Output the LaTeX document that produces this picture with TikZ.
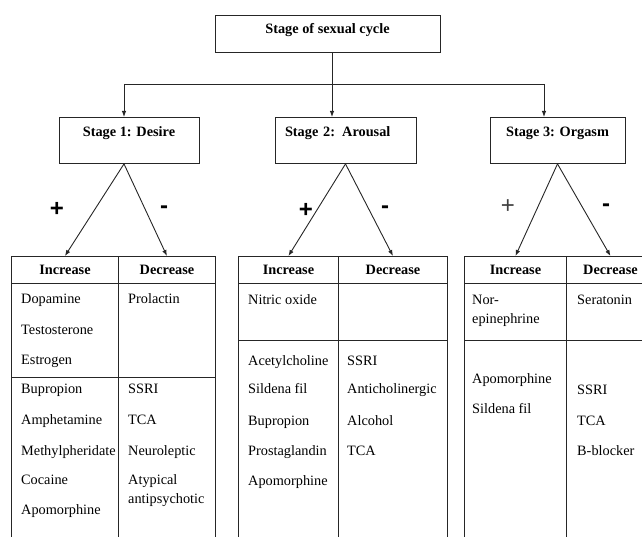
\documentclass[tikz,border=0pt]{standalone}
\usepackage{fontspec}
\setmainfont{Liberation Serif}
\newfontfamily\signfont{Liberation Sans}
\usetikzlibrary{arrows.meta}
\begin{document}
\begin{tikzpicture}[x=1pt,y=-1pt,
  line/.style={draw=black!85, line width=0.9pt},
  arr/.style={line, -{Latex[length=6pt,width=4.5pt]}},
  box/.style={draw=black!85, line width=0.9pt, font=\bfseries\fontsize{14.3}{17}\selectfont, inner xsep=0pt, inner ysep=4pt},
  stagebox/.style={box, anchor=north, text height=15pt, text depth=23pt, minimum height=46pt},
  head/.style={draw=black!85, line width=0.9pt, anchor=north west, minimum height=27pt, inner sep=0pt, font=\bfseries\fontsize{14.3}{17}\selectfont},
  cell/.style={anchor=base west, inner sep=0pt, font=\fontsize{14.3}{17}\selectfont},
  sign/.style={font=\signfont\bfseries\fontsize{24}{28}\selectfont, inner sep=0pt},
  thinsign/.style={font=\signfont\fontsize{24}{28}\selectfont, inner sep=0pt, text=black!75}
]
\useasboundingbox (0,0) rectangle (642,537);
\clip (0,0) rectangle (642,537);
\coordinate (bot) at (0,545);

% top
\node[box, anchor=north, minimum width=225pt, text height=14pt, text depth=15pt] (top) at (327.5,15) {Stage of sexual cycle};

% stages
\node[stagebox, minimum width=140pt] (s1) at (129,117) {Stage 1: Desire};
\node[stagebox, text width=121pt, align=left, inner xsep=10pt] (s2) at (345.5,117) {Stage 2: Arousal};
\node[stagebox, minimum width=135pt] (s3) at (557.5,117) {Stage 3: Orgasm};

% connectors from top
\coordinate (j) at (332,84);
\coordinate (d1) at (124,84);
\coordinate (d3) at (544,84);
\draw[line] (j |- top.south) -- (j);
\draw[line] (d1) -- (d3);
\draw[arr] (d1) -- (d1 |- s1.north);
\draw[arr] (j) -- (j |- s2.north);
\draw[arr] (d3) -- (d3 |- s3.north);

% header cells
\node[head, minimum width=107pt] (h1i) at (11,256) {Increase};
\node[head, minimum width=97pt] (h1d) at (118,256) {Decrease};
\node[head, minimum width=100pt] (h2i) at (238,256) {Increase};
\node[head, minimum width=109pt] (h2d) at (338,256) {Decrease};
\node[head, minimum width=102pt] (h3i) at (464,256) {Increase};
\node[head, minimum width=88pt] (h3d) at (566,256) {Decrease};

% arrows to tables
\coordinate (a1) at ([xshift=-5pt]s1.south);
\draw[arr] (a1) -- (h1i.north);
\draw[arr] (a1) -- (h1d.north);
\draw[arr] (s2.south) -- (h2i.north);
\draw[arr] (s2.south) -- (h2d.north);
\draw[arr] (s3.south) -- (h3i.north);
\draw[arr] (s3.south) -- (h3d.north);

% signs
\node[sign] (p1) at (57,209) {+};
\node[sign] (m1) at (164,210) {-};
\node[sign] (p2) at (306,210) {+};
\node[sign] (m2) at (385,210) {-};
\node[thinsign] (p3) at (508,207) {+};
\node[sign] (m3) at (606,208) {-};

% table 1 lines
\draw[line] (h1i.south west) -- (h1i.south west |- bot);
\draw[line] (h1i.south east) -- (h1i.south east |- bot);
\draw[line] (h1d.south east) -- (h1d.south east |- bot);
\draw[line] (h1i.west |- 0,377) -- (h1d.east |- 0,377);
% table 2 lines
\draw[line] (h2i.south west) -- (h2i.south west |- bot);
\draw[line] (h2i.south east) -- (h2i.south east |- bot);
\draw[line] (h2d.south east) -- (h2d.south east |- bot);
\draw[line] (h2i.west |- 0,340) -- (h2d.east |- 0,340);
% table 3 lines
\draw[line] (h3i.south west) -- (h3i.south west |- bot);
\draw[line] (h3i.south east) -- (h3i.south east |- bot);
\draw[line] (h3d.south east) -- (h3d.south east |- bot);
\draw[line] (h3i.west |- 0,340) -- (h3d.east |- 0,340);

% table 1 cells
\node[cell] (t1a) at (21,303) {Dopamine};
\node[cell] (t1b) at (21,334) {Testosterone};
\node[cell] (t1c) at (21,364) {Estrogen};
\node[cell] (t1d) at (21,393) {Bupropion};
\node[cell] (t1e) at (21,424) {Amphetamine};
\node[cell] (t1f) at (21,455) {Methylpheridate};
\node[cell] (t1g) at (21,484) {Cocaine};
\node[cell] (t1h) at (21,514) {Apomorphine};
\node[cell] (u1a) at (128,303) {Prolactin};
\node[cell] (u1b) at (128,393) {SSRI};
\node[cell] (u1c) at (128,424) {TCA};
\node[cell] (u1d) at (128,455) {Neuroleptic};
\node[cell] (u1e) at (128,484) {Atypical};
\node[cell] (u1f) at (128,503) {antipsychotic};

% table 2 cells
\node[cell] (t2a) at (248,304) {Nitric oxide};
\node[cell] (t2b) at (248,365) {Acetylcholine};
\node[cell] (t2c) at (248,393) {Sildena fil};
\node[cell] (t2d) at (248,425) {Bupropion};
\node[cell] (t2e) at (248,455) {Prostaglandin};
\node[cell] (t2f) at (248,485) {Apomorphine};
\node[cell] (u2a) at (347,365) {SSRI};
\node[cell] (u2b) at (347,393) {Anticholinergic};
\node[cell] (u2c) at (347,425) {Alcohol};
\node[cell] (u2d) at (347,455) {TCA};

% table 3 cells
\node[cell] (t3a) at (472,304) {Nor-};
\node[cell] (t3b) at (472,323) {epinephrine};
\node[cell] (t3c) at (472,383) {Apomorphine};
\node[cell] (t3d) at (472,413) {Sildena fil};
\node[cell] (u3a) at (577,304) {Seratonin};
\node[cell] (u3b) at (577,394) {SSRI};
\node[cell] (u3c) at (577,425) {TCA};
\node[cell] (u3d) at (577,455) {B-blocker};
\end{tikzpicture}
\end{document}
